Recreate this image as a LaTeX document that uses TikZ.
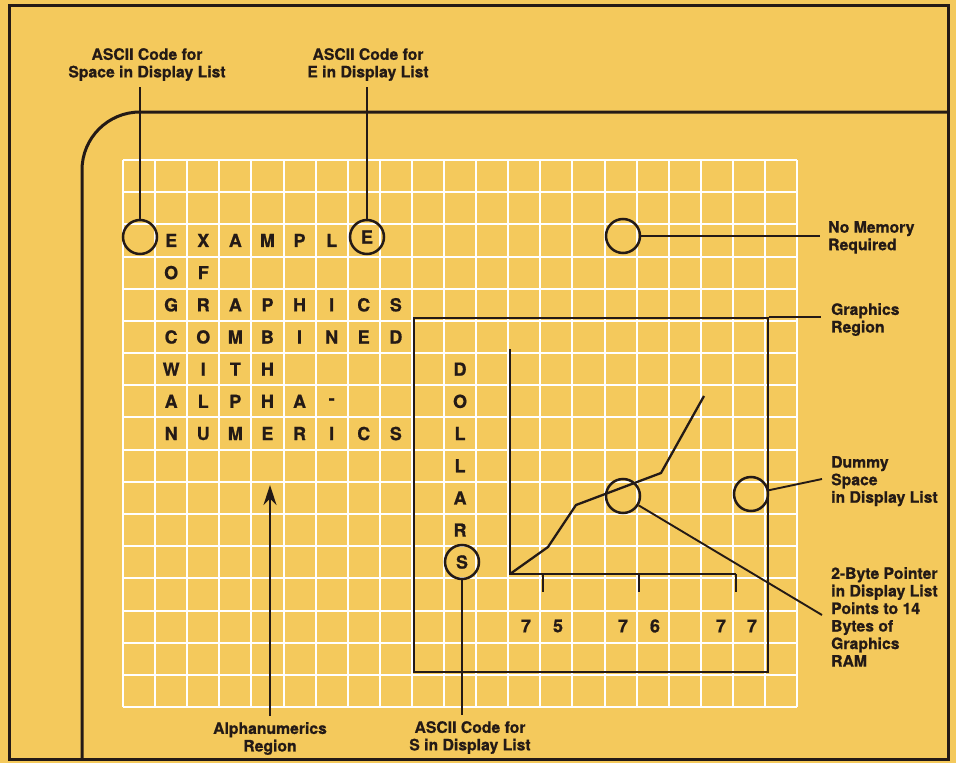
\documentclass[tikz,border=0pt]{standalone}
\usepackage{fontspec}
\setmainfont{TeX Gyre Heros}[BoldFeatures={FakeBold=0.8}]
\usetikzlibrary{arrows.meta}
\definecolor{bgyel}{RGB}{244,201,92}
\definecolor{ink}{RGB}{36,26,22}
\tikzset{
  lbl/.style={font=\fontsize{15.8}{17.6}\selectfont\bfseries, text=ink, inner sep=0pt, align=left},
  lblc/.style={lbl, align=center},
  letter/.style={font=\fontsize{18}{18}\selectfont\bfseries, text=ink, inner sep=0pt},
  ring/.style={circle, draw=ink, line width=2.5bp, minimum size=34bp, inner sep=0pt,
               font=\fontsize{18}{18}\selectfont\bfseries, text=ink},
  lead/.style={draw=ink, line width=1.9bp},
  frame/.style={draw=ink, line width=3bp},
  gridline/.style={draw=white, line width=2bp},
  plotline/.style={draw=ink, line width=2.5bp},
}
\newcommand\wordrow[3]{%
  \foreach \letr [count=\c] in {#3} {%
    \node[letter] (#1-\c) at ({123+(\c+0.5)*32.1},{160+(#2+0.5)*32.18}) {\letr};}}
\begin{document}
\begin{tikzpicture}[x=1bp,y=-1bp]
\fill[bgyel] (0,0) rectangle (956,763);
\useasboundingbox (0,0) rectangle (956,763);
% grid
\foreach \i in {0,...,21} \draw[gridline] ({123+\i*32.1},160) -- ({123+\i*32.1},707);
\foreach \j in {0,...,17} \draw[gridline] (123,{160+\j*32.18}) -- (797,{160+\j*32.18});
% frames
\draw[frame] (9,6) rectangle (948,759);
\draw[frame, rounded corners=58bp] (948,112) -- (82,112) -- (82,759);
% words
\wordrow{wa}{2}{E,X,A,M,P,L}
\wordrow{wb}{3}{O,F}
\wordrow{wc}{4}{G,R,A,P,H,I,C,S}
\wordrow{wd}{5}{C,O,M,B,I,N,E,D}
\wordrow{we}{6}{W,I,T,H}
\wordrow{wf}{7}{A,L,P,H,A,-}
\wordrow{wg}{8}{N,U,M,E,R,I,C,S}
\foreach \letr [count=\k from 6] in {D,O,L,L,A,R}
  \node[letter] (dl-\k) at ({123+10.5*32.1},{160+(\k+0.5)*32.18}) {\letr};
% circles
\node[ring] (sp) at (140,237) {};
\node[ring] (ec) at (367,237) {E};
\node[ring] (nm) at (623,236) {};
\node[ring] (sc) at (462,562) {S};
\node[ring] (gc) at (623,496) {};
\node[ring] (dm) at (751,494) {};
% graphics region
\node[draw=ink, line width=2.6bp, minimum width=354bp, minimum height=354bp, inner sep=0pt] (gr) at (591,495) {};
\draw[plotline] (510,349) -- (510,574) -- (736,574);
\foreach \tx in {543,639,736} \draw[plotline] (\tx,574) -- (\tx,592);
\draw[plotline, line width=2.3bp] (510,574) -- (548,547) -- (576,505) -- (661,473) -- (704,396);
\node[letter] (t1) at (526,626) {7};
\node[letter] (t2) at (558,626) {5};
\node[letter] (t3) at (623,626) {7};
\node[letter] (t4) at (655,626) {6};
\node[letter] (t5) at (721,626) {7};
\node[letter] (t6) at (752,626) {7};
% labels
\node[lblc, anchor=north] (spl) at (147,48) {ASCII Code for\\Space in Display List};
\node[lblc, anchor=north] (el) at (368,48) {ASCII Code for\\E in Display List};
\node[lbl, anchor=north west] (nml) at (828,221) {No Memory\\Required};
\node[lbl, anchor=north west] (grl) at (831,303) {Graphics\\Region};
\node[lbl, anchor=north west] (dml) at (831,456) {Dummy\\Space\\in Display List};
\node[lbl, anchor=north west] (ptl) at (831,567) {2-Byte Pointer\\in Display List\\Points to 14\\Bytes of\\Graphics\\RAM};
\node[lblc, anchor=north] (anl) at (270,722) {Alphanumerics\\Region};
\node[lblc, anchor=north] (sl) at (470,721) {ASCII Code for\\S in Display List};
% connectors
\coordinate (dmend) at (822,479);
\coordinate (ptend) at (822,615);
\coordinate (atip) at (270,485);
\draw[lead, shorten >=6bp] (sp.north) -- (sp.north |- spl.south);
\draw[lead, shorten >=6bp] (ec.north) -- (ec.north |- el.south);
\draw[lead, shorten >=8bp] (nm.east) -- (nm.east -| nml.west);
\draw[lead, shorten >=10bp] (gr.north east) -- (gr.north east -| grl.west);
\draw[lead] (dm) -- (dmend);
\draw[lead] (gc) -- (ptend);
\draw[lead, shorten <=6bp, -{Stealth[length=20bp, width=13bp]}] (anl.north) -- (atip);
\draw[lead, shorten >=6bp] (sc.south) -- (sc.south |- sl.north);
\end{tikzpicture}
\end{document}
